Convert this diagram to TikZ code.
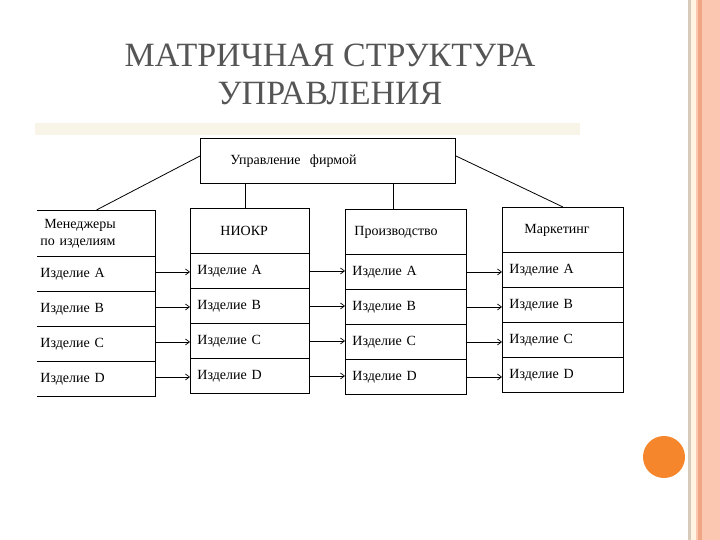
\documentclass[tikz,border=0pt]{standalone}
\usepackage{fontspec}
\setmainfont{Liberation Serif}
\usetikzlibrary{arrows.meta}
\definecolor{titlegray}{RGB}{85,85,85}
\definecolor{stripcream}{RGB}{248,245,232}
\definecolor{edgebeige}{RGB}{216,202,187}
\definecolor{edgecream}{RGB}{255,244,226}
\definecolor{edgesalmon}{RGB}{240,165,133}
\definecolor{edgepeach}{RGB}{251,199,177}
\definecolor{dotorange}{RGB}{245,134,44}

\tikzset{
  cell/.style={anchor=north west, inner xsep=0pt, inner ysep=0pt, align=left,
    font=\fontsize{14}{17}\selectfont, line width=0.9pt},
  link/.style={line width=0.8pt},
  flow/.style={line width=0.7pt, -{Straight Barb[length=4pt,width=6pt]}}
}

\begin{document}
\begin{tikzpicture}[x=1pt,y=-1pt]
  \useasboundingbox[fill=white] (0,0) rectangle (720,540);

  % Right edge of the slide.
  \fill[edgebeige]  (688,0) rectangle (691,540);
  \fill[edgecream]  (691,0) rectangle (696,540);
  \fill[edgepeach]  (696,0) rectangle (698,540);
  \fill[edgesalmon] (698,0) rectangle (702,540);
  \fill[edgepeach]  (702,0) rectangle (720,540);
  \fill[dotorange] (664,457) circle (21);

  % Title and strip.
  \node[anchor=base, text=titlegray, align=center,
    font=\fontsize{34}{38}\selectfont] (title) at (330,105)
    {МАТРИЧНАЯ СТРУКТУРА\\УПРАВЛЕНИЯ};
  \fill[stripcream] (35,123) rectangle (580,135);

  % Top box.
  \node[cell, draw, minimum width=255pt, minimum height=45pt, text width=195pt,
    inner xsep=30pt] (top) at (200,138) {Управление\ \ фирмой};

  % Managers column (no left edge).
  \node[cell, minimum width=118pt, minimum height=46pt, text width=112pt,
    inner xsep=3pt] (mh) at (37,210) {\hspace*{4pt}Менеджеры\\по изделиям};
  \foreach \r [count=\i] in {A,B,C,D}
    \node[cell, minimum width=118pt, minimum height=35pt, text width=112pt,
      inner xsep=3pt] (m-\r) at (37,256+35*\i-35) {Изделие \r};
  \draw[line width=0.9pt] (mh.north west) -- (mh.north east) -- (m-D.south east)
    -- (m-D.south west);
  \foreach \r in {A,B,C,D}
    \draw[line width=0.9pt] (m-\r.north west) -- (m-\r.north east);

  % Department columns.
  \foreach \c/\x/\w/\t/\head/\ind in {n/190/119/208/НИОКР/26,
      p/345/121/209/Производство/5, k/502/121/207/Маркетинг/18} {
    \pgfmathsetmacro\tw{\w-8}
    \node[cell, draw, minimum width=\w*1pt, minimum height=45pt, text width=\tw pt,
      inner xsep=4pt] (\c h) at (\x,\t) {\hspace*{\ind pt}\head};
    \foreach \r [count=\i] in {A,B,C,D} {
      \pgfmathsetmacro\tw{\w-14}
      \node[cell, draw, minimum width=\w*1pt, minimum height=35pt, text width=\tw pt,
        inner xsep=7pt] (\c-\r) at (\x,\t+45+35*\i-35) {Изделие \r};
    }
  }

  % Links from the top box.
  \draw[link] ([xshift=-5pt]nh.north) -- ([xshift=-5pt]nh.north |- top.south);
  \draw[link] ([xshift=-13pt]ph.north) -- ([xshift=-13pt]ph.north |- top.south);
  \draw[link] ([yshift=5pt]top.west) -- (mh.north);
  \draw[link] ([yshift=5pt]top.east) -- (kh.north);

  % Products passed along.
  \foreach \r in {A,B,C,D} {
    \draw[flow] ([yshift=2pt]m-\r.east) -- ([yshift=2pt]m-\r.east -| n-\r.west);
    \draw[flow] (n-\r.east) -- (n-\r.east -| p-\r.west);
    \draw[flow] (p-\r.east) -- (p-\r.east -| k-\r.west);
  }

\end{tikzpicture}
\end{document}
